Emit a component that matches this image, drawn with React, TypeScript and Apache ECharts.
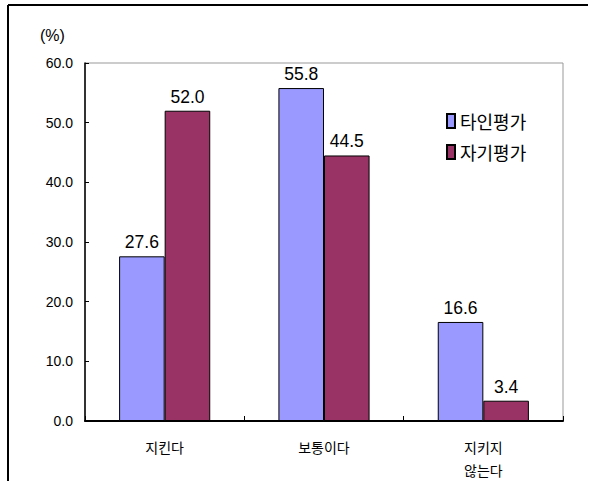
import React, { useEffect, useRef } from "react";
import * as echarts from "echarts";

const categories = ["지킨다", "보통이다", "지키지\n않는다"];
const otherRating = [27.6, 55.8, 16.6];
const selfRating = [52.0, 44.5, 3.4];
const seriesNames = ["타인평가", "자기평가"];
const yTicks = { min: 0, max: 60, interval: 10 };

export default function App() {
  const ref = useRef<HTMLDivElement>(null);
  useEffect(() => {
    if (!ref.current) return;
    const chart = echarts.init(ref.current, undefined, { renderer: "svg" });
    const krFont = "'Noto Sans CJK KR', sans-serif";
    const numFont = "'Liberation Sans', Arial, sans-serif";
    const label = {
      show: true,
      position: "top" as const,
      distance: 5,
      color: "#000",
      fontSize: 17.5,
      fontFamily: numFont,
      formatter: (p: any) => Number(p.value).toFixed(1),
    };
    chart.setOption({
      animation: false,
      backgroundColor: "#fff",
      grid: {
        left: 85,
        right: 33,
        top: 63,
        bottom: 58,
        show: true,
        borderColor: "#999",
        borderWidth: 1,
      },
      legend: {
        orient: "vertical",
        left: 441,
        top: 107,
        itemWidth: 8,
        itemHeight: 14,
        itemGap: 13,
        icon: "rect",
        textStyle: { fontSize: 18, fontFamily: krFont, color: "#000" },
        data: seriesNames,
      },
      xAxis: {
        type: "category",
        data: categories,
        axisLine: { lineStyle: { color: "#000", width: 2 } },
        axisTick: { show: true, inside: true, length: 5, lineStyle: { color: "#000" } },
        axisLabel: {
          color: "#000",
          fontSize: 14,
          fontFamily: krFont,
          margin: 14,
          lineHeight: 23,
        },
      },
      yAxis: {
        type: "value",
        min: yTicks.min,
        max: yTicks.max,
        interval: yTicks.interval,
        splitLine: { show: false },
        axisLine: { show: true, lineStyle: { color: "#000", width: 1.5 } },
        axisTick: { show: true, inside: true, length: 4, lineStyle: { color: "#000" } },
        axisLabel: {
          color: "#000",
          fontSize: 14,
          fontFamily: numFont,
          margin: 12,
          formatter: (v: number) => v.toFixed(1),
        },
      },
      graphic: [
        {
          type: "text",
          left: 40,
          top: 27,
          style: { text: "(%)", fontSize: 16, fontFamily: numFont, fill: "#000" },
        },
        {
          type: "line",
          shape: { x1: 8, y1: 5, x2: 588, y2: 5 },
          style: { stroke: "#000", lineWidth: 2 },
        },
        {
          type: "line",
          shape: { x1: 8, y1: 5, x2: 8, y2: 481 },
          style: { stroke: "#000", lineWidth: 2 },
        },
      ],
      series: [
        {
          name: seriesNames[0],
          type: "bar",
          data: otherRating,
          barWidth: "28.6%",
          barGap: "0%",
          itemStyle: { color: "#9999FF", borderColor: "#000", borderWidth: 1 },
          label,
        },
        {
          name: seriesNames[1],
          type: "bar",
          data: selfRating,
          barWidth: "28.6%",
          barGap: "0%",
          itemStyle: { color: "#993366", borderColor: "#000", borderWidth: 1 },
          label,
        },
      ],
    });
    return () => chart.dispose();
  }, []);
  return <div ref={ref} style={{ width: 596, height: 481, position: "absolute", left: 0, top: 0 }} />;
}
